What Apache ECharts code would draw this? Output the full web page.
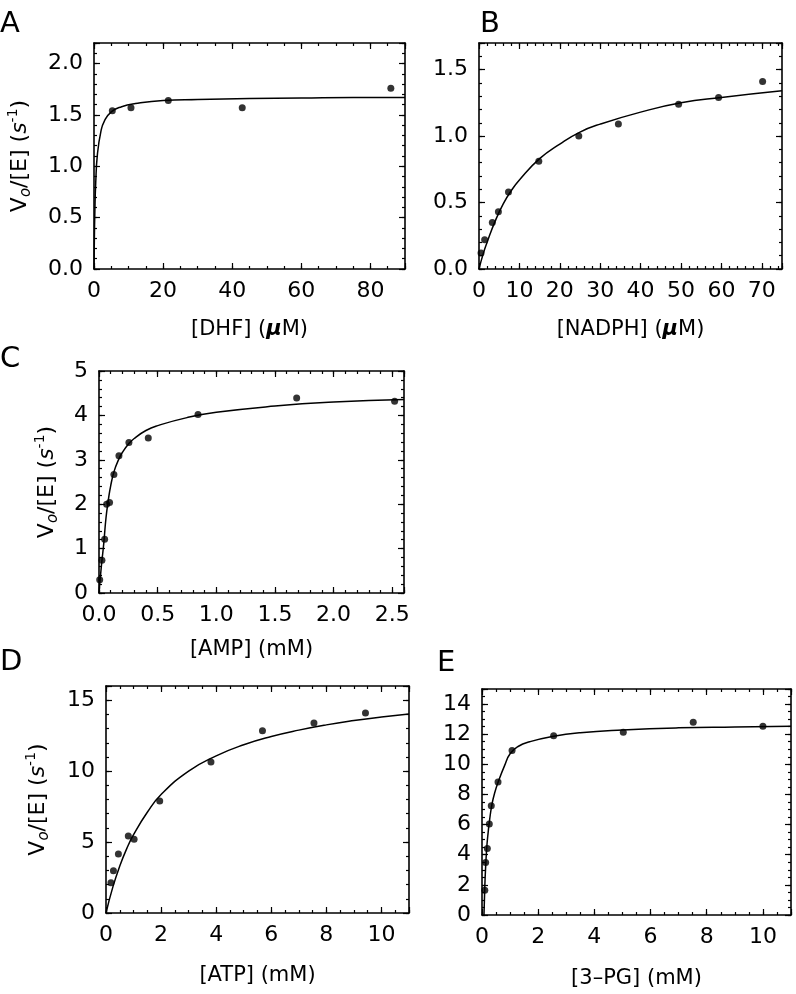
<!DOCTYPE html>
<html><head><meta charset="utf-8">
<script src="https://cdn.jsdelivr.net/npm/echarts@6/dist/echarts.min.js"></script>
<style>html,body{margin:0;padding:0;background:#fff}#c{width:796px;height:994px}</style>
</head><body><div id="c"></div>
<script>
// ---- Panel A: DHF ----
const aX = [5.3, 10.7, 21.5, 42.9, 85.9];
const aY = [1.54, 1.57, 1.64, 1.57, 1.76];
const aFitX = [0, 0.1, 0.25, 0.5, 1, 2, 3, 5, 8, 12, 20, 30, 45, 60, 75, 90];
const aFitY = [0, 0.28, 0.56, 0.84, 1.12, 1.34, 1.44, 1.53, 1.58, 1.61, 1.64, 1.65, 1.66, 1.665, 1.67, 1.67];
// ---- Panel B: NADPH ----
const bX = [0.5, 1.4, 3.3, 4.8, 7.3, 14.8, 24.7, 34.5, 49.4, 59.3, 70.2];
const bY = [0.12, 0.22, 0.35, 0.43, 0.58, 0.81, 1.00, 1.09, 1.24, 1.29, 1.41];
const bFitX = [0, 1, 2, 4, 6, 8, 10, 15, 20, 25, 30, 40, 50, 60, 75];
const bFitY = [0, 0.11, 0.20, 0.36, 0.49, 0.59, 0.67, 0.83, 0.94, 1.03, 1.09, 1.18, 1.25, 1.29, 1.34];
// ---- Panel C: AMP ----
const cX = [0.006, 0.025, 0.048, 0.065, 0.09, 0.127, 0.17, 0.255, 0.42, 0.844, 1.685, 2.52];
const cY = [0.30, 0.74, 1.21, 2.00, 2.04, 2.67, 3.09, 3.39, 3.49, 4.02, 4.39, 4.32];
const cFitX = [0, 0.02, 0.04, 0.06, 0.08, 0.1, 0.13, 0.17, 0.2, 0.25, 0.3, 0.4, 0.5, 0.75, 1.0, 1.5, 2.0, 2.6];
const cFitY = [0, 0.6, 1.1, 1.7, 2.1, 2.42, 2.75, 3.02, 3.17, 3.35, 3.48, 3.66, 3.77, 3.95, 4.07, 4.21, 4.30, 4.36];
// ---- Panel D: ATP ----
const dX = [0.18, 0.27, 0.45, 0.81, 1.02, 1.95, 3.81, 5.68, 7.55, 9.42];
const dY = [2.13, 2.97, 4.16, 5.42, 5.19, 7.90, 10.65, 12.85, 13.39, 14.09];
const dFitX = [0, 0.25, 0.5, 0.75, 1, 1.5, 2, 3, 4, 5, 6, 7, 8, 9, 10, 11];
const dFitY = [0, 1.84, 3.31, 4.52, 5.52, 7.10, 8.35, 10.0, 11.08, 11.86, 12.44, 12.89, 13.26, 13.56, 13.81, 14.02];
// ---- Panel E: 3-PG ----
const eX = [0.1, 0.13, 0.19, 0.26, 0.33, 0.57, 1.07, 2.55, 5.03, 7.52, 10.0];
const eY = [1.65, 3.48, 4.41, 6.04, 7.25, 8.82, 10.91, 11.9, 12.13, 12.79, 12.52];
const eFitX = [0.07, 0.1, 0.13, 0.17, 0.22, 0.27, 0.35, 0.45, 0.6, 0.8, 1.0, 1.3, 1.7, 2.5, 3.5, 5, 7, 9, 11];
const eFitY = [0, 1.9, 3.2, 4.5, 5.5, 6.3, 7.3, 8.1, 8.95, 9.9, 10.7, 11.2, 11.5, 11.85, 12.1, 12.28, 12.42, 12.48, 12.53];

const xTitles = ['[DHF] ({mu|μ}M)', '[NADPH] ({mu|μ}M)', '[AMP] (mM)', '[ATP] (mM)', '[3\u2013PG] (mM)'];
const yTitle = '{t|V}{o|o}{t|/[E] (}{s|s}{p|-1}{t|)}';
const letters = ['A', 'B', 'C', 'D', 'E'];

const FONT = 'DejaVu Sans';
const panels = [
  {grid:{left:94, top:43, width:311, height:226}, x:{min:0,max:90,major:20,minor:5,dec:0}, y:{min:0,max:2.2,major:0.5,minor:0.1,dec:1}, xGap:50, yGap:60, yName:true, pts:[aX,aY], fit:[aFitX,aFitY], letter:[0,10]},
  {grid:{left:479, top:43, width:303, height:226}, x:{min:0,max:75,major:10,minor:2,dec:0}, y:{min:0,max:1.7,major:0.5,minor:0.1,dec:1}, xGap:50, yName:false, pts:[bX,bY], fit:[bFitX,bFitY], letter:[480,10]},
  {grid:{left:99, top:371, width:305, height:222}, x:{min:0,max:2.6,major:0.5,minor:0.1,dec:1}, y:{min:0,max:5,major:1,minor:0.2,dec:0}, xGap:46, yGap:38, yName:true, pts:[cX,cY], fit:[cFitX,cFitY], letter:[0,345]},
  {grid:{left:106, top:686, width:303, height:227}, x:{min:0,max:11,major:2,minor:0.5,dec:0}, y:{min:0,max:16,major:5,minor:1,dec:0}, xGap:52, yGap:54, yName:true, pts:[dX,dY], fit:[dFitX,dFitY], letter:[0,648]},
  {grid:{left:482, top:689, width:309, height:226}, x:{min:0,max:11,major:2,minor:0.5,dec:0}, y:{min:0,max:15,major:2,minor:0.5,dec:0}, xGap:53, yName:false, pts:[eX,eY], fit:[eFitX,eFitY], letter:[437,649]}
];

const black = '#000';
const MAJOR_LEN = 6, MINOR_LEN = 3;
function isMult(max, step){ const r = max/step; return Math.abs(r - Math.round(r)) < 1e-6; }

const grids = [], xAxes = [], yAxes = [], series = [], graphics = [];
panels.forEach((p, i) => {
  grids.push(Object.assign({containLabel:false}, p.grid));
  const mainAxis = (dim, cfg, pos, labels, name, gap) => {
    const ax = {
      type:'value', gridIndex:i, position:pos, min:cfg.min, max:cfg.max, interval:cfg.major,
      axisLine:{show:true, onZero:false, lineStyle:{color:black, width:1.6}},
      axisTick:{show:false},
      axisLabel:{show:labels, margin:11, color:black, fontFamily:FONT, fontSize:22,
        showMaxLabel:isMult(cfg.max, cfg.major), showMinLabel:true,
        formatter: v => Number(v).toFixed(cfg.dec)},
      splitLine:{show:false}
    };
    if (name) {
      ax.name = name; ax.nameLocation = 'middle'; ax.nameGap = gap;
      ax.nameTextStyle = dim === 'x'
        ? {fontFamily:FONT, fontSize:21, color:black,
           rich:{mu:{fontFamily:FONT, fontSize:21, fontStyle:'italic', fontWeight:'bold', color:black}}}
        : {fontFamily:FONT, fontSize:22, color:black,
           rich:{
             t:{fontFamily:FONT, fontSize:22, color:black, lineHeight:28},
             s:{fontFamily:FONT, fontSize:22, fontStyle:'italic', color:black, lineHeight:28},
             o:{fontFamily:FONT, fontSize:15, fontStyle:'italic', color:black, lineHeight:15, verticalAlign:'bottom'},
             p:{fontFamily:FONT, fontSize:14, color:black, lineHeight:14, verticalAlign:'top'}
           }};
    }
    return ax;
  };
  const tickAxis = (cfg, pos, major) => {
    const len = major ? MAJOR_LEN : MINOR_LEN;
    return {
      type:'value', gridIndex:i, position:pos, offset:-len, min:cfg.min, max:cfg.max,
      interval: major ? cfg.major : cfg.minor,
      axisLine:{show:false, onZero:false},
      axisTick:{show:true, inside:false, length:len, lineStyle:{color:black, width:1.2}},
      axisLabel:{show:false}, splitLine:{show:false}
    };
  };
  const xBase = xAxes.length, yBase = yAxes.length;
  xAxes.push(mainAxis('x', p.x, 'bottom', true, xTitles[i], p.xGap));
  yAxes.push(mainAxis('y', p.y, 'left', true, p.yName ? yTitle : null, p.yGap));
  xAxes.push(mainAxis('x', p.x, 'top', false));
  yAxes.push(mainAxis('y', p.y, 'right', false));
  ['bottom', 'top'].forEach(pos => { xAxes.push(tickAxis(p.x, pos, true)); xAxes.push(tickAxis(p.x, pos, false)); });
  ['left', 'right'].forEach(pos => { yAxes.push(tickAxis(p.y, pos, true)); yAxes.push(tickAxis(p.y, pos, false)); });

  series.push({
    type:'line', xAxisIndex:xBase, yAxisIndex:yBase, smooth:0.5,
    showSymbol:false, symbol:'none', silent:true,
    lineStyle:{color:black, width:1.5},
    data:p.fit[0].map((x, k) => [x, p.fit[1][k]])
  });
  series.push({
    type:'scatter', xAxisIndex:xBase, yAxisIndex:yBase, symbol:'circle', symbolSize:7,
    itemStyle:{color:black},
    data:p.pts[0].map((x, k) => [x, p.pts[1][k]])
  });
  graphics.push({type:'text', left:p.letter[0], top:p.letter[1],
    style:{text:letters[i], fontFamily:FONT, fontSize:29, fill:black}});
});

const chart = echarts.init(document.getElementById('c'), null, {renderer:'canvas'});
chart.setOption({
  animation:false, backgroundColor:'#fff',
  grid:grids, xAxis:xAxes, yAxis:yAxes, series:series, graphic:graphics
});
</script></body></html>
